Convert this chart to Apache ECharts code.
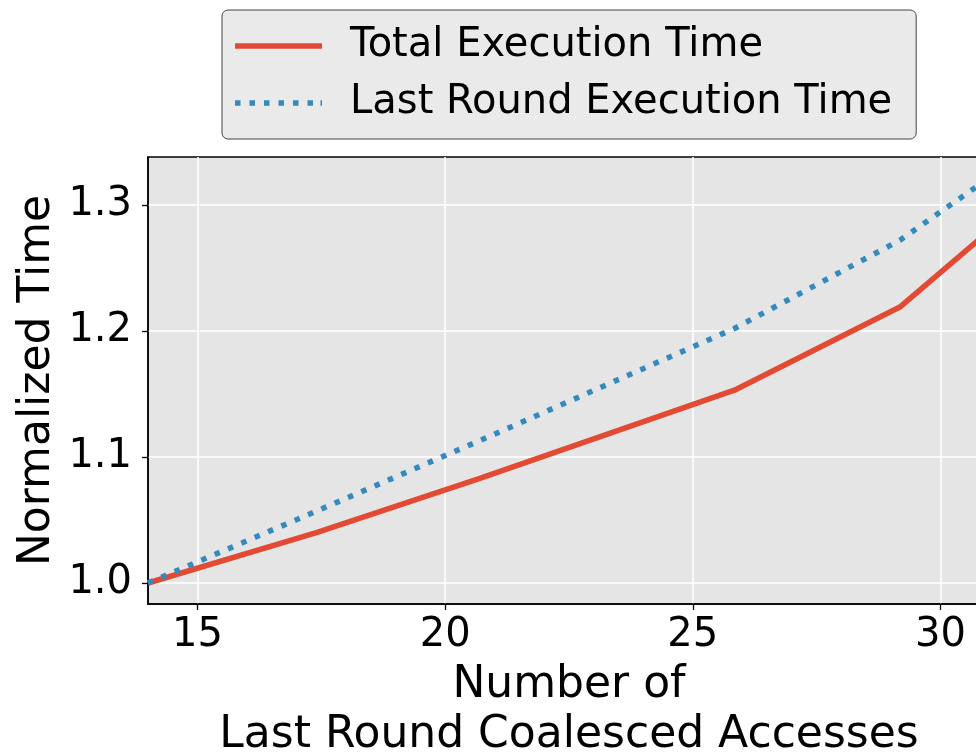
<!DOCTYPE html>
<html>
<head>
<meta charset="utf-8">
<script src="https://cdn.jsdelivr.net/npm/echarts@6/dist/echarts.min.js"></script>
<style>
  html, body { margin: 0; padding: 0; background: #fff; }
  #main { width: 976px; height: 752px; }
</style>
</head>
<body>
<div id="main"></div>
<script>
// values
var accesses = [14, 17.4, 20.7, 25.84, 29.18, 31];
var totalTime = [1.000, 1.040, 1.083, 1.153, 1.219, 1.280];
var lastRoundTime = [1.000, 1.057, 1.113, 1.202, 1.272, 1.322];
var xTicks = [15, 20, 25, 30];
var yTicks = [1.0, 1.1, 1.2, 1.3];

function pairs(xs, ys) {
  return xs.map(function (x, i) { return [x, ys[i]]; });
}

// legend swatches: a solid bar and a row of square dots
var solidIcon = 'path://M0,0H87V5.5H0Z';
var dotIcon = 'path://M0,0h5.5v5.5h-5.5z M14.5,0h5.5v5.5h-5.5z M29,0h5.5v5.5h-5.5z M43.5,0h5.5v5.5h-5.5z M58,0h5.5v5.5h-5.5z M72.5,0h5.5v5.5h-5.5z M85.5,0h1.5v5.5h-1.5z';

var font = 'DejaVu Sans';
var chart = echarts.init(document.getElementById('main'), null, { renderer: 'canvas' });

var option = {
  animation: false,
  grid: {
    left: 148, top: 157, width: 842, bottom: 148,
    outerBoundsMode: 'none',
    containLabel: false,
    show: true,
    backgroundColor: '#E5E5E5',
    borderColor: '#000',
    borderWidth: 1.5
  },
  legend: {
    orient: 'vertical',
    left: 222, top: 10,
    padding: [16, 24, 16, 13],
    itemGap: 17,
    itemWidth: 87,
    itemHeight: 5.5,
    backgroundColor: '#EAEAEA',
    borderColor: '#444',
    borderWidth: 1,
    borderRadius: 6,
    textStyle: { fontFamily: font, fontSize: 40, color: '#000', padding: [0, 0, 0, 23] },
    data: [
      { name: 'Total Execution Time', icon: solidIcon },
      { name: 'Last Round Execution Time', icon: dotIcon }
    ]
  },
  xAxis: {
    type: 'value',
    min: 14, max: 31,
    name: 'Number of\nLast Round Coalesced Accesses',
    nameLocation: 'middle',
    nameGap: 52,
    nameTextStyle: { fontFamily: font, fontSize: 44, color: '#000', lineHeight: 50 },
    axisLine: { lineStyle: { color: '#000', width: 1.5 } },
    axisTick: { customValues: xTicks, length: 6, lineStyle: { color: '#000', width: 1.3 } },
    axisLabel: { customValues: xTicks, fontFamily: font, fontSize: 40, color: '#000', margin: 12 },
    splitLine: { show: true, lineStyle: { color: '#fff', width: 1.5 } }
  },
  yAxis: {
    type: 'value',
    min: 0.98333, max: 1.3381,
    name: 'Normalized Time',
    nameLocation: 'middle',
    nameGap: 88,
    nameMoveOverlap: false,
    nameTextStyle: { fontFamily: font, fontSize: 44, color: '#000' },
    axisLine: { show: true, lineStyle: { color: '#000', width: 1.5 } },
    axisTick: { show: true, customValues: yTicks, length: 6, lineStyle: { color: '#000', width: 1.3 } },
    axisLabel: {
      customValues: yTicks, fontFamily: font, fontSize: 40, color: '#000', margin: 16,
      formatter: function (v) { return v.toFixed(1); }
    },
    splitLine: { show: true, lineStyle: { color: '#fff', width: 1.5 } }
  },
  series: [
    {
      name: 'Total Execution Time',
      type: 'line',
      symbol: 'none',
      data: pairs(accesses, totalTime),
      lineStyle: { color: '#E24A33', width: 5.5, cap: 'butt' },
      itemStyle: { color: '#E24A33' }
    },
    {
      name: 'Last Round Execution Time',
      type: 'line',
      symbol: 'none',
      data: pairs(accesses, lastRoundTime),
      lineStyle: { color: '#348ABD', width: 5.5, type: [5.5, 9], cap: 'butt' },
      itemStyle: { color: '#348ABD' }
    }
  ]
};
chart.setOption(option);
</script>
</body>
</html>
